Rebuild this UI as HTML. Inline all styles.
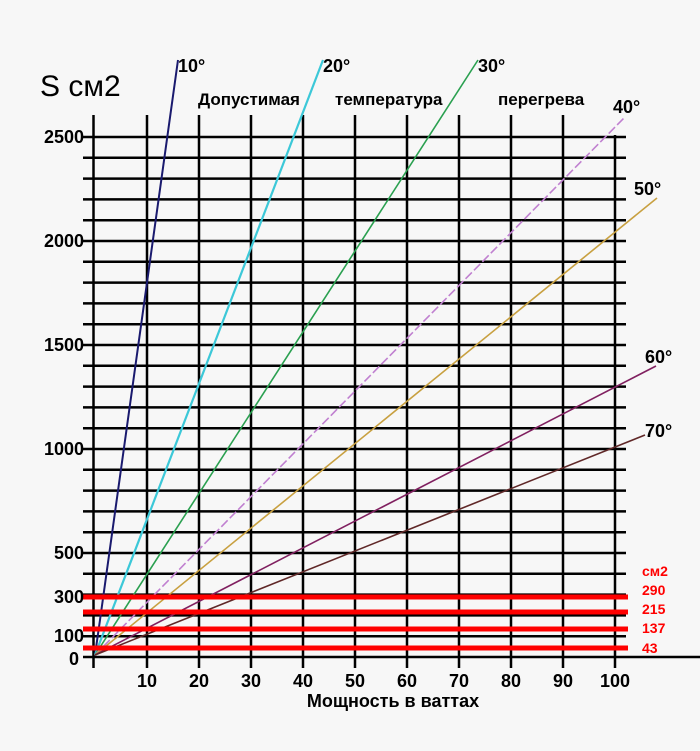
<!DOCTYPE html>
<html><head><meta charset="utf-8"><style>
html,body{margin:0;padding:0;background:#f7f7f7;}
svg{display:block;}
text{font-family:"Liberation Sans",sans-serif;}
</style></head><body>
<svg width="700" height="751" viewBox="0 0 700 751" xmlns="http://www.w3.org/2000/svg">
<rect width="700" height="751" fill="#f7f7f7"/>
<g stroke="#000" stroke-width="2.5">
<line x1="83" y1="137" x2="626" y2="137"/>
<line x1="83" y1="157.8" x2="626" y2="157.8"/>
<line x1="83" y1="178.6" x2="626" y2="178.6"/>
<line x1="83" y1="199.4" x2="626" y2="199.4"/>
<line x1="83" y1="220.2" x2="626" y2="220.2"/>
<line x1="83" y1="241" x2="626" y2="241"/>
<line x1="83" y1="261.8" x2="626" y2="261.8"/>
<line x1="83" y1="282.6" x2="626" y2="282.6"/>
<line x1="83" y1="303.4" x2="626" y2="303.4"/>
<line x1="83" y1="324.2" x2="626" y2="324.2"/>
<line x1="83" y1="345" x2="626" y2="345"/>
<line x1="83" y1="365.8" x2="626" y2="365.8"/>
<line x1="83" y1="386.6" x2="626" y2="386.6"/>
<line x1="83" y1="407.4" x2="626" y2="407.4"/>
<line x1="83" y1="428.2" x2="626" y2="428.2"/>
<line x1="83" y1="449" x2="626" y2="449"/>
<line x1="83" y1="469.8" x2="626" y2="469.8"/>
<line x1="83" y1="490.6" x2="626" y2="490.6"/>
<line x1="83" y1="511.4" x2="626" y2="511.4"/>
<line x1="83" y1="532.2" x2="626" y2="532.2"/>
<line x1="83" y1="553" x2="626" y2="553"/>
<line x1="83" y1="573.8" x2="626" y2="573.8"/>
<line x1="83" y1="594.6" x2="626" y2="594.6"/>
<line x1="83" y1="615.4" x2="626" y2="615.4"/>
<line x1="83" y1="636.2" x2="626" y2="636.2"/>
<line x1="83" y1="657" x2="700" y2="657"/>
<line x1="93.5" y1="115" x2="93.5" y2="668"/>
<line x1="147" y1="115" x2="147" y2="668"/>
<line x1="199" y1="115" x2="199" y2="668"/>
<line x1="251" y1="115" x2="251" y2="668"/>
<line x1="303" y1="115" x2="303" y2="668"/>
<line x1="355" y1="115" x2="355" y2="668"/>
<line x1="407" y1="115" x2="407" y2="668"/>
<line x1="459" y1="115" x2="459" y2="668"/>
<line x1="511" y1="115" x2="511" y2="668"/>
<line x1="563" y1="115" x2="563" y2="668"/>
<line x1="615" y1="135" x2="615" y2="668"/>
</g>
<g fill="none" stroke-width="1.6">
<polyline points="95,655 100,620 178,60" stroke="#1a1a6e" stroke-width="2"/>
<line x1="95" y1="655" x2="323" y2="60" stroke="#3cc8d8" stroke-width="2.2"/>
<line x1="95" y1="655" x2="478" y2="60" stroke="#2aa050"/>
<line x1="95" y1="655" x2="624" y2="118" stroke="#c080d0" stroke-dasharray="9,3"/>
<line x1="95" y1="655" x2="657" y2="198" stroke="#c8a040"/>
<line x1="95" y1="655" x2="656" y2="366" stroke="#802060"/>
<line x1="95" y1="655" x2="645" y2="435" stroke="#602828"/>
</g>
<g stroke="#ff0000" stroke-width="5">
<line x1="83" y1="597" x2="628" y2="597"/>
<line x1="83" y1="612" x2="628" y2="612"/>
<line x1="83" y1="629" x2="628" y2="629"/>
<line x1="83" y1="648" x2="628" y2="648"/>
</g>
<g fill="#ff0000" font-size="14" font-weight="bold">
<text x="642" y="576">см2</text>
<text x="642" y="595">290</text>
<text x="642" y="614">215</text>
<text x="642" y="633">137</text>
<text x="642" y="653">43</text>
</g>
<text x="40" y="96" font-size="30">S см2</text>
<g font-size="18" font-weight="bold" text-anchor="end">
<text x="84" y="143">2500</text>
<text x="84" y="247">2000</text>
<text x="84" y="351">1500</text>
<text x="84" y="455">1000</text>
<text x="84" y="559">500</text>
<text x="84" y="603">300</text>
<text x="84" y="642">100</text>
<text x="79" y="665">0</text>
</g>
<g font-size="18" font-weight="bold" text-anchor="middle">
<text x="147" y="687">10</text>
<text x="199" y="687">20</text>
<text x="251" y="687">30</text>
<text x="303" y="687">40</text>
<text x="355" y="687">50</text>
<text x="407" y="687">60</text>
<text x="459" y="687">70</text>
<text x="511" y="687">80</text>
<text x="563" y="687">90</text>
<text x="615" y="687">100</text>
<text x="393" y="707">Мощность в ваттах</text>
</g>
<g font-size="17" font-weight="bold">
<text x="198" y="105">Допустимая</text>
<text x="335" y="105">температура</text>
<text x="498" y="105">перегрева</text>
</g>
<g font-size="18" font-weight="bold">
<text x="178" y="72">10°</text>
<text x="323" y="72">20°</text>
<text x="478" y="72">30°</text>
<text x="613" y="113">40°</text>
<text x="634" y="195">50°</text>
<text x="645" y="363">60°</text>
<text x="645" y="437">70°</text>
</g>
</svg>
</body></html>
